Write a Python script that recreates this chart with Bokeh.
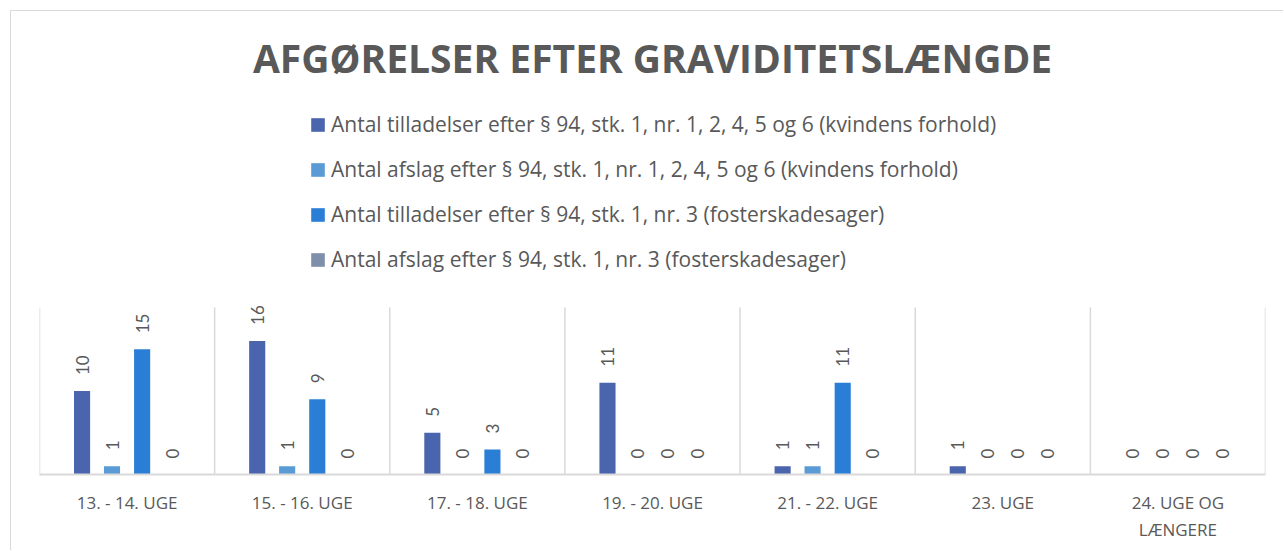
import numpy as np
from bokeh.plotting import figure
from bokeh.models import (ColumnDataSource, FixedTicker, Legend, LegendItem)
from bokeh.core.properties import value
from bokeh.embed import file_html
from bokeh.resources import INLINE

categories = ["13. - 14. UGE", "15. - 16. UGE", "17. - 18. UGE", "19. - 20. UGE",
              "21. - 22. UGE", "23. UGE", "24. UGE OG\nLÆNGERE"]
series_names = [
    "Antal tilladelser efter § 94, stk. 1, nr. 1, 2, 4, 5 og 6 (kvindens forhold)",
    "Antal afslag efter § 94, stk. 1, nr. 1, 2, 4, 5 og 6 (kvindens forhold)",
    "Antal tilladelser efter § 94, stk. 1, nr. 3 (fosterskadesager)",
    "Antal afslag efter § 94, stk. 1, nr. 3 (fosterskadesager)",
]
tilladelser_kvinde = [10, 16, 5, 11, 1, 1, 0]
afslag_kvinde = [1, 1, 0, 0, 1, 0, 0]
tilladelser_foster = [15, 9, 3, 0, 11, 0, 0]
afslag_foster = [0, 0, 0, 0, 0, 0, 0]
series_values = [tilladelser_kvinde, afslag_kvinde, tilladelser_foster, afslag_foster]
colors = ["#4A65AD", "#5B9BD5", "#2A7ED6", "#7F8FAB"]
offsets = [-0.257, -0.086, 0.086, 0.257]
Y_MAX = 20  # value axis maximum

TEXT = "#595959"
GRID = "#D9D9D9"

FRAME_H = 374
PLOT_H = 167  # pixel height of the 0..Y_MAX value area
y_end = Y_MAX * FRAME_H / PLOT_H

p = figure(width=1273, height=540, output_backend="svg", toolbar_location=None,
           x_range=(0, len(categories)), y_range=(0, y_end),
           min_border_left=28, min_border_right=19, min_border_top=89,
           min_border_bottom=77)
p.margin = (10, 0, 0, 10)
p.styles = {"border-left": "1px solid #D9D9D9", "border-top": "1px solid #D9D9D9"}
p.outline_line_color = None
p.background_fill_color = "white"
p.border_fill_color = "white"

p.title.text = "AFGØRELSER EFTER GRAVIDITETSLÆNGDE"
p.title.align = "center"
p.title.text_font = "Open Sans"
p.title.text_font_style = "bold"
p.title.text_font_size = "39px"
p.title.text_color = TEXT
p.title.standoff = 33

# category separators (vertical gridlines spanning the value area)
bounds = np.arange(len(categories) + 1)
p.segment(x0=bounds, y0=0, x1=bounds, y1=Y_MAX, line_color=GRID, line_width=1.5)

centers = np.arange(len(categories)) + 0.5
items = []
for name, vals, col, off in zip(series_names, series_values, colors, offsets):
    src = ColumnDataSource(dict(x=centers + off, top=vals, lab=[str(v) for v in vals]))
    r = p.vbar(x="x", top="top", width=0.092, source=src, fill_color=col, line_color=None)
    p.text(x="x", y="top", text="lab", source=src, angle=np.pi / 2,
           text_align="left", text_baseline="middle", y_offset=-16,
           text_font=value("Lato"), text_font_size="17px", text_color=TEXT)
    items.append(LegendItem(label=name, renderers=[r]))

legend = Legend(items=items, location=(270, 201), orientation="vertical",
                label_text_font="Open Sans", label_text_font_size="21px",
                label_text_color=TEXT, glyph_width=17, glyph_height=17,
                label_height=28, spacing=17, padding=0, margin=0,
                label_standoff=5, border_line_color=None,
                background_fill_alpha=0)
p.add_layout(legend, "center")

p.yaxis.visible = False
p.ygrid.visible = False
p.xgrid.visible = False

p.xaxis.ticker = FixedTicker(ticks=list(centers))
p.xaxis.major_label_overrides = {float(c): cat for c, cat in zip(centers, categories)}
p.xaxis.major_tick_line_color = None
p.xaxis.minor_tick_line_color = None
p.xaxis.axis_line_color = GRID
p.xaxis.axis_line_width = 2
p.xaxis.major_label_text_font = "Open Sans"
p.xaxis.major_label_text_font_size = "17px"
p.xaxis.major_label_text_color = TEXT
p.xaxis.major_label_standoff = 10

open("out.html", "w").write(file_html(p, INLINE))
